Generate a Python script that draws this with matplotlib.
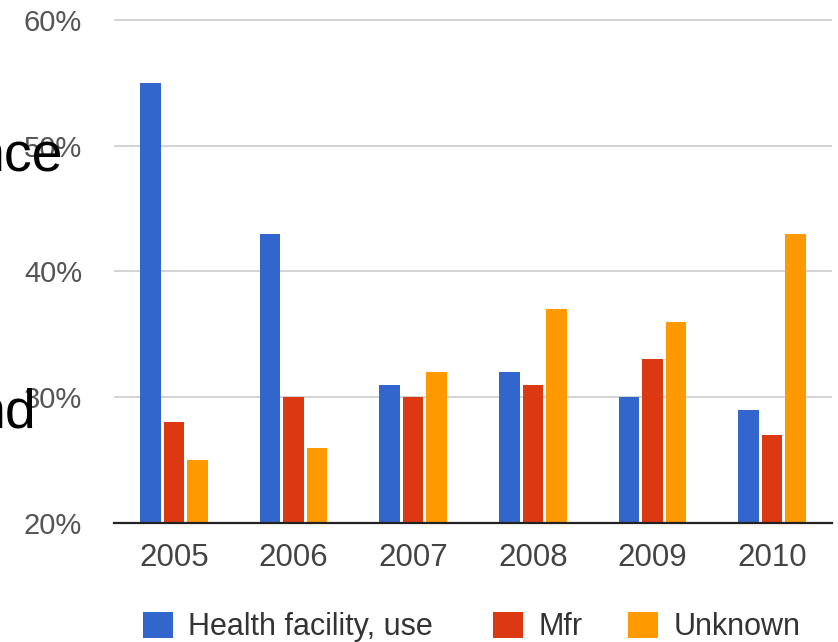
import matplotlib
matplotlib.use("Agg")
import matplotlib.pyplot as plt
from matplotlib.patches import Patch
import numpy as np

plt.rcParams['font.family'] = ['Liberation Sans', 'DejaVu Sans']

years = ["2005", "2006", "2007", "2008", "2009", "2010"]
series_names = ["Health facility, use", "Mfr", "Unknown"]
health_facility = [55, 43, 31, 32, 30, 29]
mfr = [28, 30, 30, 31, 33, 27]
unknown = [25, 26, 32, 37, 36, 43]
y_ticks = [20, 30, 40, 50, 60]
y_tick_labels = ["20%", "30%", "40%", "50%", "60%"]

colors = ["#3366cc", "#dc3912", "#ff9900"]

W, H = 838, 642
fig = plt.figure(figsize=(W / 100, H / 100), dpi=100)

# axes box in pixels
left_px, right_px = 114, 832
bottom_px = 523
px_per_unit = 12.58
ymax = 60.3
top_px = bottom_px - (ymax - 20) * px_per_unit
ax = fig.add_axes([left_px / W, 1 - bottom_px / H,
                   (right_px - left_px) / W, (bottom_px - top_px) / H])

x = np.arange(len(years))
bar_w = 0.171
pitch = 0.196
for i, (vals, c) in enumerate(zip([health_facility, mfr, unknown], colors)):
    ax.bar(x + (i - 1) * pitch, np.array(vals) - 20, bottom=20, width=bar_w,
           color=c, zorder=3, linewidth=0)

ax.set_xlim(-0.5, len(years) - 0.5)
ax.set_ylim(20, ymax)
ax.set_xticks(x)
ax.set_xticklabels(years)
ax.set_yticks(y_ticks)
ax.set_yticklabels(y_tick_labels)

ax.tick_params(axis='x', length=0, pad=14.5, labelsize=22.5, labelcolor="#444444")
ax.tick_params(axis='y', length=0, pad=23, labelsize=21, labelcolor="#555555")

ax.yaxis.grid(True, color="#cccccc", linewidth=1.2, zorder=0)
ax.set_axisbelow(True)
for s in ["top", "right", "left"]:
    ax.spines[s].set_visible(False)
ax.spines["bottom"].set_color("#222222")
ax.spines["bottom"].set_linewidth(1.6)
ax.spines["bottom"].set_zorder(4)

# legend entries, one per series
legend_x_px = [143, 493, 628]
for name, c, lx in zip(series_names, colors, legend_x_px):
    fig.legend(handles=[Patch(facecolor=c, edgecolor='none', label=name)],
               loc='center left', bbox_to_anchor=(lx / W, 1 - 627 / H),
               frameon=False, borderpad=0, borderaxespad=0,
               handlelength=0.98, handleheight=0.98, handletextpad=0.5,
               prop={'size': 22}, labelcolor="#333333")

# slide text peeking out at the left edge
fig.text(63 / W, 1 - 171 / H, "nce", ha='right', va='baseline',
         fontsize=40, color="black", zorder=10)
fig.text(36 / W, 1 - 428 / H, "nd", ha='right', va='baseline',
         fontsize=40, color="black", zorder=10)

fig.savefig("out.png", dpi=100)
